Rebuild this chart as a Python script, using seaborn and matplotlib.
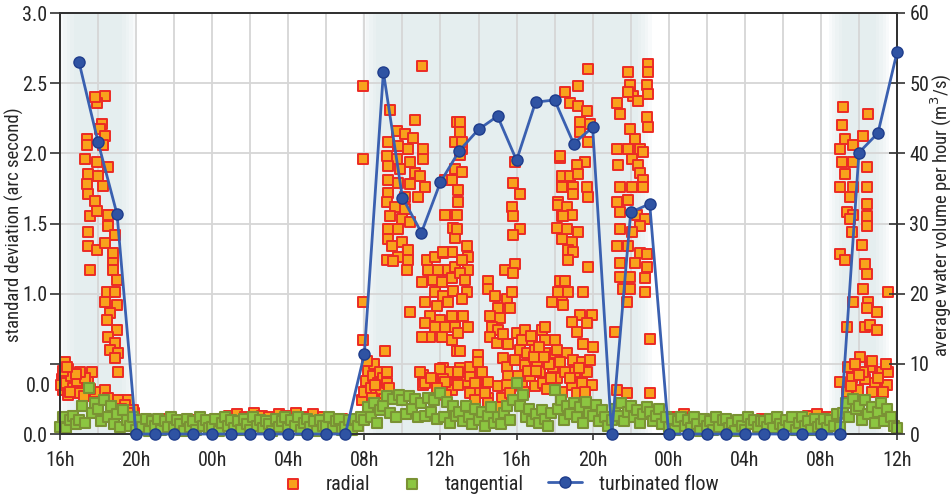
import numpy as np
import pandas as pd
import matplotlib
matplotlib.use("Agg")
import matplotlib.pyplot as plt
import matplotlib.transforms as mtransforms
from matplotlib import font_manager
from matplotlib.ticker import FuncFormatter
import seaborn as sns

# hours counted from 16h on day 1, values in arc seconds
radial_night = [
    (3.9, 0.15), (4.2, 0.10), (4.7, 0.08), (5.3, 0.11), (5.9, 0.07), (6.5, 0.09), (7.1, 0.10),
    (7.7, 0.08), (8.3, 0.11), (8.9, 0.13), (9.3, 0.14), (9.7, 0.12), (10.2, 0.15), (10.6, 0.13),
    (11.0, 0.12), (11.5, 0.14), (11.9, 0.13), (12.4, 0.15), (12.9, 0.12), (13.3, 0.14),
    (13.8, 0.12), (14.3, 0.09), (14.8, 0.11), (15.3, 0.08),
    (31.6, 0.10), (32.2, 0.12), (32.8, 0.14), (33.3, 0.12), (33.9, 0.09), (34.5, 0.11),
    (35.1, 0.08), (35.7, 0.10), (36.3, 0.09), (36.9, 0.11), (37.5, 0.08), (38.1, 0.10),
    (38.7, 0.12), (39.3, 0.13), (39.8, 0.14), (40.3, 0.12), (40.7, 0.10),
]
radial_day1 = [
    (2.37, 2.41), (1.95, 2.36), (1.84, 2.40), (2.21, 2.21), (2.10, 2.17), (1.42, 2.10), (1.42, 2.06),
    (2.37, 2.12), (2.26, 2.06), (1.31, 1.96), (1.95, 1.94), (2.52, 1.90), (1.47, 1.85), (2.00, 1.84),
    (2.26, 1.77), (1.42, 1.78), (1.47, 1.71), (1.84, 1.66), (1.58, 1.55), (1.95, 1.59), (2.52, 1.56),
    (1.47, 1.44), (2.52, 1.48), (2.89, 1.42), (1.47, 1.34), (1.95, 1.31), (2.37, 1.36), (2.79, 1.29),
    (2.79, 1.22), (1.58, 1.17), (2.79, 1.17), (3.00, 1.10), (2.47, 1.01), (2.89, 1.01), (2.37, 0.94),
    (3.00, 0.92), (2.63, 0.86), (2.47, 0.81), (3.00, 0.74), (2.52, 0.69), (2.89, 0.65), (2.63, 0.60),
    (3.05, 0.58), (2.89, 0.54), (3.05, 0.44),
    (0.26, 0.51), (0.42, 0.46), (0.11, 0.39), (0.53, 0.39), (0.79, 0.34), (0.16, 0.31), (0.42, 0.28),
    (1.16, 0.31), (1.68, 0.44), (1.47, 0.37), (1.84, 0.30), (2.37, 0.31), (2.52, 0.26), (3.05, 0.24),
    (3.58, 0.24), (3.42, 0.21), (3.84, 0.17), (0.05, 0.35), (0.20, 0.42), (0.30, 0.36), (0.60, 0.41),
    (0.70, 0.33), (0.90, 0.38), (1.00, 0.29), (1.30, 0.40), (1.05, 0.44), (0.55, 0.30), (0.15, 0.45),
    (1.60, 0.32), (1.25, 0.27), (0.85, 0.43), (0.35, 0.48), (2.00, 0.22), (2.70, 0.20), (3.20, 0.18),
    (3.60, 0.15),
]
radial_day2 = [
    # 08h
    (15.93, 2.48), (15.93, 1.96), (15.93, 0.94), (15.93, 0.67),
    (15.88, 0.24), (16.00, 0.30), (16.10, 0.38), (16.20, 0.45), (16.30, 0.19), (16.35, 0.33),
    (16.45, 0.41), (16.50, 0.50), (16.60, 0.28), (16.70, 0.36), (16.80, 0.44), (16.90, 0.31),
    (17.00, 0.40), (17.09, 0.59), (17.19, 0.44), (17.19, 0.36), (17.05, 0.25), (16.40, 0.26),
    (16.15, 0.52), (16.55, 0.35), (16.85, 0.22), (17.30, 0.33),
    # 09h - 10h
    (17.35, 2.31), (18.66, 2.24), (17.72, 2.16), (18.14, 2.14), (18.56, 2.11), (17.24, 2.08),
    (17.77, 2.05), (18.30, 2.03), (19.09, 2.03), (17.19, 1.98), (17.72, 1.96), (18.40, 1.94),
    (19.09, 1.96), (17.24, 1.91), (17.88, 1.89), (18.66, 1.86), (18.93, 1.84), (17.24, 1.81),
    (17.77, 1.79), (18.40, 1.78), (19.19, 1.76), (17.24, 1.72), (18.14, 1.69), (18.82, 1.69),
    (17.19, 1.65), (17.61, 1.62), (18.14, 1.60), (17.35, 1.55), (17.98, 1.53), (18.40, 1.51),
    (17.24, 1.46), (17.77, 1.46), (17.24, 1.39), (17.98, 1.37), (17.46, 1.34), (18.30, 1.31),
    (17.19, 1.24), (17.77, 1.26), (17.51, 1.23), (18.30, 1.24), (18.24, 1.17), (19.03, 2.62),
    # 10h - 12h
    (19.30, 1.24), (19.72, 1.26), (20.14, 1.29), (20.61, 1.30), (19.35, 1.17), (19.87, 1.17),
    (20.40, 1.17), (20.77, 1.19), (19.61, 1.10), (20.08, 1.08), (20.61, 1.11), (19.03, 1.08),
    (19.72, 1.01), (20.14, 0.98), (20.66, 1.02), (19.19, 0.94), (19.82, 0.91), (20.40, 0.94),
    (19.45, 0.84), (19.98, 0.81), (20.61, 0.84), (19.19, 0.79), (19.72, 0.76), (20.24, 0.76),
    (20.77, 0.76), (19.45, 0.69), (20.08, 0.69), (20.61, 0.67), (18.40, 0.87), (19.03, 0.69),
    (20.87, 0.59),
    (20.87, 2.22), (21.03, 2.16), (20.77, 2.08), (21.14, 2.03), (20.24, 1.81), (20.77, 1.89),
    (20.61, 1.81), (20.24, 1.56), (20.77, 1.56), (20.66, 1.47), (20.77, 1.40), (20.14, 1.30),
    (19.09, 0.42), (19.09, 0.35), (20.14, 0.47), (20.50, 0.44), (20.87, 0.36), (20.14, 0.39),
    (20.61, 0.31), (18.93, 0.44), (19.19, 0.36), (19.98, 0.46), (21.03, 0.47), (20.24, 0.37),
    (21.40, 0.37), (21.56, 0.41), (21.92, 0.36), (22.50, 0.37), (21.92, 0.31), (22.50, 0.26),
    (21.56, 0.29), (19.50, 0.40), (19.80, 0.33), (20.30, 0.28),
    # 13h
    (21.03, 2.22), (21.03, 2.15), (21.14, 2.08), (21.03, 1.99), (21.14, 1.87), (20.93, 1.74),
    (20.93, 1.65), (20.87, 1.56), (20.87, 1.46), (21.40, 1.34), (21.45, 1.26), (21.14, 1.24),
    (21.45, 1.17), (21.03, 1.15), (21.29, 1.10), (21.40, 1.01), (21.14, 0.96), (21.19, 0.84),
    (21.45, 0.76), (20.93, 0.72), (21.03, 0.59), (20.93, 0.44), (20.93, 0.35), (21.56, 0.48),
    (21.98, 0.56), (21.98, 0.51), (22.19, 0.44), (21.82, 0.36), (22.35, 0.29), (21.82, 0.24),
    (22.50, 0.22),
    # 14h
    (22.50, 1.09), (22.50, 1.03), (22.87, 0.98), (23.50, 0.96), (23.76, 1.01), (23.03, 0.90),
    (23.66, 0.90), (22.61, 0.84), (23.13, 0.83), (22.71, 0.76), (23.03, 0.74), (22.61, 0.69),
    (22.98, 0.65), (23.29, 0.71), (23.55, 0.64), (23.29, 0.54), (23.50, 0.48), (23.55, 0.41),
    (23.03, 0.34), (23.50, 0.35), (23.24, 0.26), (23.03, 0.19), (23.66, 0.29),
    # 15h - 16h
    (23.40, 1.17), (23.92, 1.21), (23.82, 1.15), (23.82, 1.79), (24.19, 1.71), (23.76, 1.62),
    (23.82, 1.55), (24.19, 1.46), (23.82, 1.42), (23.92, 1.94), (24.03, 0.72), (24.45, 0.74),
    (24.29, 0.67), (24.19, 0.60), (24.82, 0.67), (24.55, 0.58), (24.97, 0.60), (23.92, 0.53),
    (24.45, 0.49), (25.08, 0.51), (24.08, 0.41), (24.71, 0.41), (25.24, 0.44), (24.29, 0.34),
    (24.97, 0.34), (25.39, 0.36), (25.34, 0.74), (25.50, 0.67), (25.60, 0.58), (26.03, 0.67),
    (26.03, 0.58), (25.92, 0.48), (26.13, 0.40), (26.03, 0.31), (24.60, 0.45), (24.90, 0.55),
    (25.20, 0.62), (25.70, 0.50), (25.80, 0.40), (24.40, 0.30), (25.60, 0.32), (25.00, 0.45),
    (24.75, 0.70), (25.45, 0.55),
    (26.29, 1.97), (26.39, 1.81), (26.18, 1.65), (26.39, 1.55), (26.13, 1.47), (26.39, 1.39),
    (25.87, 0.94), (26.39, 0.96), (26.29, 1.09),
    # 17h - 20h
    (27.76, 2.60), (27.23, 2.48), (26.55, 2.44), (26.81, 2.36), (27.23, 2.34), (27.71, 2.30),
    (27.34, 2.22), (27.87, 2.21), (27.34, 2.15), (27.76, 2.08), (26.29, 1.98), (27.60, 1.94),
    (27.18, 1.92), (26.39, 1.84), (26.81, 1.84), (27.23, 1.85), (26.39, 1.76), (26.97, 1.76),
    (27.71, 1.76), (26.97, 1.71), (27.76, 1.69), (26.18, 1.63), (26.66, 1.62), (26.92, 1.56),
    (26.45, 1.55), (26.66, 1.46), (27.23, 1.44), (26.92, 1.37), (26.71, 1.31), (26.97, 1.30),
    (26.71, 1.24), (27.76, 1.19), (26.55, 1.09), (26.18, 1.01), (26.71, 1.01), (27.50, 1.01),
    (26.45, 0.92), (27.34, 0.85), (27.97, 0.85), (26.92, 0.80), (27.71, 0.79), (27.18, 0.73),
    (27.50, 0.64), (28.02, 0.62), (26.13, 0.60), (26.66, 0.58), (26.97, 0.53), (26.29, 0.51),
    (27.44, 0.51), (27.87, 0.53), (26.55, 0.44), (27.08, 0.44), (27.71, 0.44), (27.97, 0.35),
    (27.44, 0.36), (26.92, 0.35), (27.18, 0.29), (25.50, 0.76), (26.80, 0.40), (27.30, 0.47),
    (26.40, 0.30), (27.60, 0.30),
    # 21h - 23h
    (29.28, 2.36), (29.44, 2.28), (29.86, 2.58), (29.97, 2.49), (30.13, 2.41), (30.39, 2.37),
    (29.86, 2.44), (30.91, 2.64), (30.91, 2.58), (30.86, 2.49), (30.91, 2.42), (30.86, 2.26),
    (30.91, 2.19), (29.97, 2.17), (30.23, 2.10), (29.28, 2.03), (29.86, 2.03), (30.49, 2.03),
    (30.07, 1.96), (30.65, 2.01), (29.34, 1.92), (30.39, 1.92), (30.49, 1.86), (30.65, 1.81),
    (29.44, 1.76), (30.07, 1.76), (30.65, 1.76), (29.28, 1.65), (29.86, 1.67), (29.44, 1.58),
    (30.34, 1.56), (30.76, 1.53), (30.49, 1.48), (29.44, 1.46), (30.07, 1.44), (29.28, 1.34),
    (29.86, 1.34), (30.49, 1.29), (30.86, 1.28), (29.44, 1.22), (30.23, 1.22), (30.86, 1.19),
    (29.44, 1.12), (29.97, 1.12), (30.76, 1.11), (29.60, 1.03), (29.97, 1.03), (30.76, 1.01),
    (29.81, 0.94), (29.18, 0.73), (31.02, 0.68), (29.28, 0.31), (29.81, 0.29), (31.02, 0.29),
]
radial_day3 = [
    (41.17, 2.33), (42.48, 2.28), (41.11, 2.20), (41.27, 2.10), (41.01, 2.03), (41.69, 2.06),
    (42.22, 2.12), (41.11, 1.94), (41.69, 1.94), (42.43, 1.90), (41.27, 1.85), (41.01, 1.76),
    (41.69, 1.76), (42.43, 1.76), (41.54, 1.69), (42.43, 1.64), (41.38, 1.58), (41.69, 1.56),
    (42.43, 1.55), (41.54, 1.53), (42.43, 1.48), (41.64, 1.44), (42.17, 1.35), (41.01, 1.28),
    (41.27, 1.24), (42.32, 1.21), (42.43, 1.14), (42.22, 1.03), (43.53, 1.01), (41.69, 0.94),
    (42.48, 0.94), (42.43, 0.90), (42.95, 0.87), (41.38, 0.76), (42.32, 0.76), (42.59, 0.78),
    (42.95, 0.74),
    (42.06, 0.55), (41.43, 0.48), (42.59, 0.48), (43.22, 0.44), (43.53, 0.44), (41.01, 0.37),
    (41.64, 0.40), (42.32, 0.39), (42.85, 0.36), (43.48, 0.35), (41.96, 0.31), (42.69, 0.30),
    (43.27, 0.30), (41.38, 0.30), (42.22, 0.44), (41.80, 0.50), (42.00, 0.42), (42.70, 0.52),
    (43.00, 0.40), (41.60, 0.34), (43.40, 0.50),
]

# tangential: one reading every 10 minutes, 16h day 1 -> 12h day 3
tangential = [
    0.05, 0.12, 0.04, 0.10, 0.13, 0.07,  0.10, 0.20, 0.08, 0.33, 0.15, 0.22,
    0.18, 0.09, 0.24, 0.12, 0.20, 0.07,  0.14, 0.05, 0.17, 0.10, 0.06, 0.12,
    0.03, 0.10, 0.05, 0.11, 0.02, 0.09,  0.06, 0.11, 0.03, 0.09, 0.05, 0.12,
    0.04, 0.10, 0.07, 0.02, 0.11, 0.05,  0.09, 0.03, 0.12, 0.06, 0.10, 0.04,
    0.05, 0.11, 0.02, 0.08, 0.12, 0.06,  0.10, 0.04, 0.09, 0.03, 0.11, 0.07,
    0.03, 0.12, 0.06, 0.10, 0.04, 0.09,  0.07, 0.02, 0.11, 0.05, 0.09, 0.12,
    0.04, 0.10, 0.06, 0.12, 0.03, 0.08,  0.11, 0.05, 0.09, 0.02, 0.10, 0.06,
    0.06, 0.12, 0.04, 0.09, 0.11, 0.03,  0.05, 0.10, 0.03, 0.11, 0.06, 0.12,
    0.10, 0.19, 0.12, 0.22, 0.08, 0.17,  0.20, 0.27, 0.15, 0.25, 0.12, 0.28,
    0.24, 0.14, 0.27, 0.18, 0.25, 0.12,  0.22, 0.13, 0.26, 0.16, 0.24, 0.11,
    0.29, 0.12, 0.23, 0.08, 0.20, 0.13,  0.16, 0.09, 0.20, 0.12, 0.07, 0.18,
    0.10, 0.16, 0.06, 0.13, 0.19, 0.08,  0.12, 0.07, 0.15, 0.20, 0.10, 0.24,
    0.36, 0.20, 0.28, 0.12, 0.18, 0.09,  0.14, 0.08, 0.17, 0.11, 0.06, 0.15,
    0.31, 0.18, 0.24, 0.10, 0.20, 0.14,  0.22, 0.12, 0.19, 0.08, 0.23, 0.15,
    0.13, 0.21, 0.09, 0.17, 0.12, 0.06,  0.10, 0.18, 0.13, 0.22, 0.09, 0.16,
    0.20, 0.12, 0.17, 0.08, 0.14, 0.19,  0.16, 0.09, 0.13, 0.18, 0.07, 0.12,
    0.05, 0.11, 0.03, 0.09, 0.12, 0.06,  0.10, 0.04, 0.12, 0.07, 0.02, 0.11,
    0.06, 0.09, 0.03, 0.12, 0.05, 0.10,  0.11, 0.04, 0.08, 0.02, 0.10, 0.06,
    0.03, 0.12, 0.07, 0.10, 0.05, 0.09,  0.09, 0.05, 0.11, 0.04, 0.12, 0.07,
    0.04, 0.10, 0.06, 0.12, 0.03, 0.08,  0.12, 0.06, 0.09, 0.03, 0.11, 0.05,
    0.07, 0.11, 0.04, 0.10, 0.06, 0.14,  0.05, 0.15, 0.22, 0.12, 0.25, 0.18,
    0.20, 0.10, 0.24, 0.14, 0.19, 0.08,  0.16, 0.22, 0.09, 0.18, 0.12, 0.06,
    0.04,
]

# turbinated flow, hourly from 17h day 1 (m3/s)
flow = [
    53.0, 41.6, 31.3, 0, 0, 0, 0, 0, 0, 0, 0, 0, 0, 0, 0,
    11.4, 51.6, 33.7, 28.7, 35.9, 40.4, 43.4, 45.3, 39.0, 47.3, 47.6, 41.4, 43.7,
    0, 31.6, 32.8, 0, 0, 0, 0, 0, 0, 0, 0, 0, 0,
    40.1, 42.9, 54.4,
]

# periods with water flowing (shaded)
active_periods = [(0.0, 4.0), (15.9, 31.1), (40.4, 43.6)]

radial = pd.DataFrame(radial_night + radial_day1 + radial_day2 + radial_day3, columns=["hour", "value"])
tang = pd.DataFrame({"hour": np.arange(len(tangential)) / 6, "value": tangential})
flow_df = pd.DataFrame({"hour": np.arange(1, len(flow) + 1), "flow": flow})

sns.set_style("white")
names = {f.name for f in font_manager.fontManager.ttflist}
narrow = [n for n in ["Liberation Sans Narrow", "Roboto Condensed", "Open Sans Condensed"] if n in names]
plt.rcParams["font.family"] = narrow + ["Liberation Sans", "DejaVu Sans"]
if not narrow:
    plt.rcParams["font.stretch"] = "condensed"
fs = 14.5

fig = plt.figure(figsize=(9.52, 4.99), dpi=100)
ax = fig.add_axes([60 / 952, 1 - 434 / 499, 837 / 952, 421 / 499])

# soft shaded background
for start, end in active_periods:
    for k in range(5):
        pad = 0.18 * (4 - k)
        ax.axvspan(start + pad, end - pad, color="#d6e6e8", alpha=0.17, lw=0, zorder=0)

sns.scatterplot(data=radial, x="hour", y="value", ax=ax, marker="s", s=62,
                color="#f8a21c", edgecolor="#ec2b24", linewidth=1.4,
                label="radial", clip_on=False, zorder=3)
sns.scatterplot(data=tang, x="hour", y="value", ax=ax, marker="s", s=62,
                color="#8cc641", edgecolor="#7a9234", linewidth=1.5,
                label="tangential", clip_on=False, zorder=4)

ax.set_xlim(0, 44)
ax.set_ylim(0, 3)
ax.set_xticks(range(0, 45, 4))
ax.set_xticks(range(0, 45, 2), minor=True)
ax.xaxis.set_major_formatter(FuncFormatter(lambda h, _: f"{int((16 + h) % 24):02d}h"))
ax.set_yticks([0, 0.5, 1.0, 1.5, 2.0, 2.5, 3.0])
ax.set_yticklabels(["0.0", "", "1.0", "1.5", "2.0", "2.5", "3.0"])
ax.grid(True, which="both", color="#d6d6d6", lw=1.3, zorder=1)
ax.set_axisbelow(True)
ax.tick_params(axis="y", direction="out", length=7, width=1.2, color="#333333",
               labelsize=fs, pad=2, left=True)
ax.tick_params(axis="x", which="major", direction="out", length=4, width=1.2,
               color="#333333", labelsize=fs, pad=8, bottom=True)
ax.tick_params(axis="x", which="minor", length=0)
ax.set_xlabel("")
ax.set_ylabel("")
trans = mtransforms.blended_transform_factory(ax.transAxes, ax.transData)
ax.text(-0.0105, 0.336, "0.0", transform=trans, ha="right", va="center", fontsize=fs)

ax2 = ax.twinx()
sns.lineplot(data=flow_df, x="hour", y="flow", ax=ax2, color="#3a60b0", lw=2,
             marker="o", markersize=8, markerfacecolor="#2f53a3",
             markeredgecolor="#1f3d8c", markeredgewidth=1, label="turbinated flow",
             clip_on=False, zorder=5)
ax2.set_ylim(0, 60)
ax2.set_yticks(range(0, 61, 10))
ax2.tick_params(axis="y", direction="inout", length=12, width=1.2, color="#333333",
                labelsize=fs, pad=3, right=True)
ax2.set_ylabel("")
ax2.grid(False)

fig.text(14 / 952, 1 - 225 / 499, "standard deviation (arc second)", rotation=90,
         ha="center", va="center", fontsize=13.5)
fig.text(941 / 952, 1 - 215 / 499, "average water volume per hour (m$^3$/s)", rotation=90,
         ha="center", va="center", fontsize=13.5)

for a in (ax, ax2):
    for sp in a.spines.values():
        sp.set_color("#333333")
        sp.set_linewidth(1.4)

h1, l1 = ax.get_legend_handles_labels()
h2, l2 = ax2.get_legend_handles_labels()
ax.get_legend().remove()
ax2.get_legend().remove()
fig.legend(h1 + h2, l1 + l2, loc="center", bbox_to_anchor=(0.522, 0.03), ncol=3,
           frameon=False, fontsize=fs, columnspacing=1.2, handlelength=1.7,
           handletextpad=0.8, markerscale=1.0)

fig.savefig("out.png", dpi=100)
